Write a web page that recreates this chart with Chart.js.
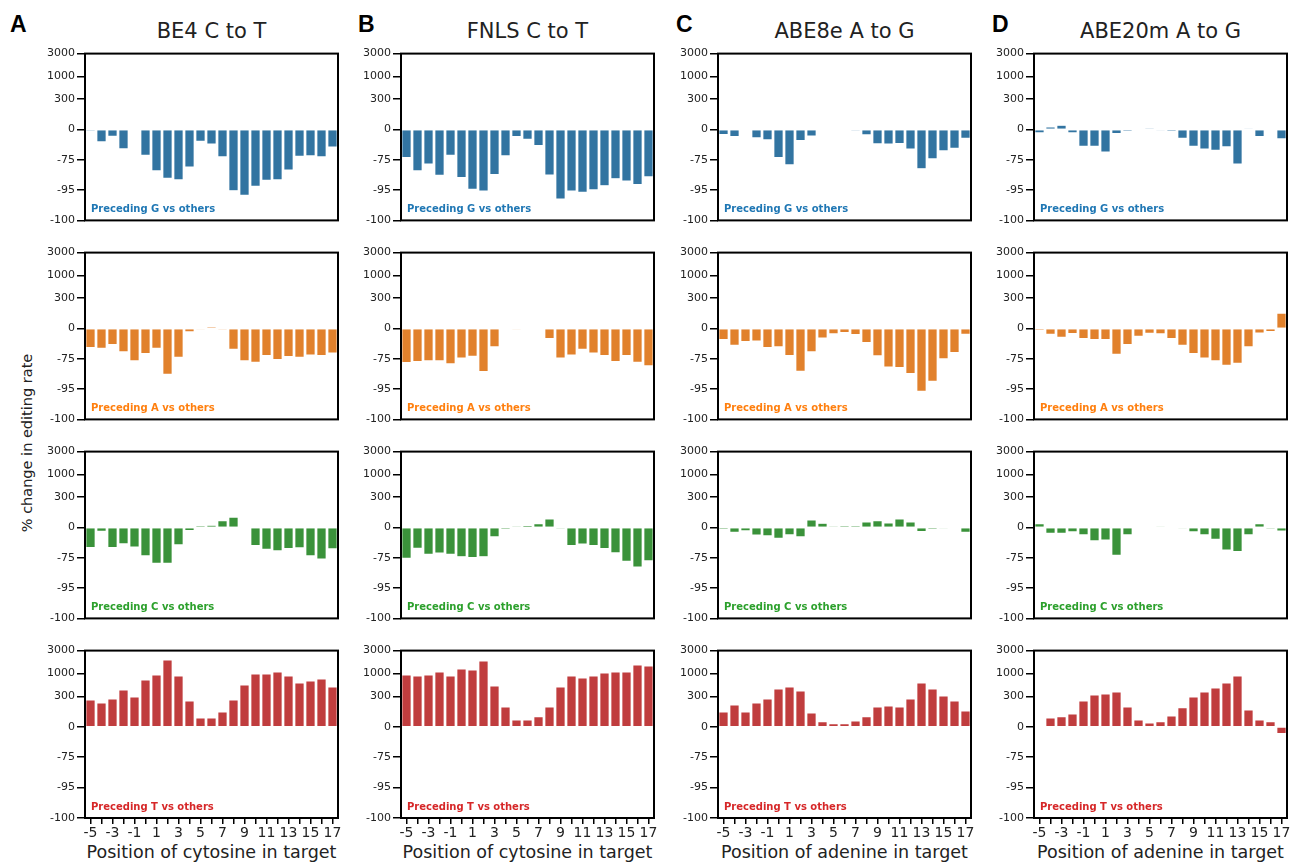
<!DOCTYPE html>
<html>
<head>
<meta charset="utf-8">
<script src="https://cdn.jsdelivr.net/npm/chart.js@4.4.1/dist/chart.umd.min.js"></script>
<style>
  body { margin: 0; background: #fff; width: 1292px; height: 864px; position: relative; overflow: hidden; font-family: "DejaVu Sans", sans-serif; color: #222; }
  canvas { position: absolute; }
  .letter { position: absolute; font-family: "Liberation Sans", Arial, sans-serif; font-weight: bold; font-size: 23px; line-height: 20px; color: #000; }
  .title { position: absolute; width: 253px; text-align: center; font-size: 21px; line-height: 21px; }
  .xtitle { position: absolute; width: 300px; text-align: center; font-size: 17.5px; line-height: 17.5px; }
  .ylabel { position: absolute; font-size: 14.5px; white-space: nowrap; transform: translate(-50%, -50%) rotate(-90deg); }
</style>
</head>
<body>
<script>
// positions of the edited base relative to the target
const positions = ['-5','-4','-3','-2','-1','0','1','2','3','4','5','6','7','8','9','10','11','12','13','14','15','16','17'];

// y axis is log2 fold change, labelled as % change
const yTickValues = [-6, -4, -2, 0, 2, 3.5, 5];
const yTickLabels = ['-100', '-95', '-75', '0', '300', '1000', '3000'];

const editors = ['BE4 C to T', 'FNLS C to T', 'ABE8e A to G', 'ABE20m A to G'];
const panelLetters = ['A', 'B', 'C', 'D'];
const xTitles = ['Position of cytosine in target', 'Position of cytosine in target',
                 'Position of adenine in target', 'Position of adenine in target'];
const preceding = ['Preceding G vs others', 'Preceding A vs others', 'Preceding C vs others', 'Preceding T vs others'];

// preceding G
const be4G    = [-0.10,-0.83,-0.46,-1.29,0,-1.71,-2.74,-3.24,-3.33,-2.49,-0.79,-0.98,-1.82,-4.05,-4.35,-3.76,-3.37,-3.33,-2.69,-1.79,-1.75,-1.82,-1.18];
const fnlsG   = [-1.86,-2.74,-2.30,-3.04,-1.71,-3.19,-3.96,-4.07,-2.98,-1.75,-0.48,-0.66,-1.07,-3.02,-4.60,-4.07,-4.16,-4.00,-3.72,-3.26,-3.41,-3.65,-3.13];
const abe8eG  = [-0.35,-0.48,0,-0.57,-0.70,-1.86,-2.34,-0.74,-0.44,-0.05,0.05,-0.05,-0.08,-0.37,-0.96,-0.98,-0.94,-1.31,-2.60,-1.95,-1.42,-1.25,-0.59];
const abe20mG = [-0.24,0.18,0.28,-0.24,-1.12,-1.12,-1.51,-0.28,-0.11,0,0.07,-0.04,-0.11,-0.59,-1.12,-1.31,-1.38,-1.16,-2.30,0.02,-0.48,0,-0.63];
// preceding A
const be4A    = [-1.27,-1.32,-1.08,-1.56,-2.15,-1.67,-1.32,-3.03,-1.91,-0.24,-0.02,0.09,-0.09,-1.38,-2.15,-2.24,-1.80,-2.07,-1.87,-1.91,-1.76,-1.80,-1.63];
const fnlsA   = [-2.26,-2.20,-2.15,-2.15,-2.35,-1.96,-1.85,-2.86,-1.23,-0.07,-0.04,0,0,-0.68,-1.96,-1.76,-1.38,-1.63,-1.80,-2.20,-1.80,-2.24,-2.48];
const abe8eA  = [-0.75,-1.12,-0.88,-0.84,-1.27,-1.23,-1.80,-2.84,-1.56,-0.64,-0.37,-0.29,-0.42,-0.95,-1.82,-2.55,-2.59,-2.99,-4.15,-3.49,-2.02,-1.60,-0.40];
const abe20mA = [-0.13,-0.40,-0.59,-0.35,-0.68,-0.75,-0.75,-1.71,-1.08,-0.53,-0.33,-0.37,-0.68,-1.12,-1.67,-1.96,-2.15,-2.44,-2.31,-1.23,-0.31,-0.22,1.01];
// preceding C
const be4C    = [-1.33,-0.26,-1.33,-1.09,-1.31,-1.88,-2.38,-2.38,-1.16,-0.22,0.09,0.15,0.46,0.68,-0.07,-1.20,-1.46,-1.55,-1.40,-1.35,-1.88,-2.10,-1.42];
const fnlsC   = [-2.05,-1.38,-1.79,-1.70,-1.79,-1.94,-1.99,-1.94,-0.63,-0.13,0.07,0.13,0.26,0.57,-0.09,-1.20,-1.11,-1.20,-1.40,-1.68,-2.25,-2.62,-2.21];
const abe8eC  = [-0.13,-0.33,-0.24,-0.52,-0.57,-0.72,-0.50,-0.63,0.50,0.28,0.07,0.09,0.11,0.37,0.46,0.31,0.57,0.37,-0.28,-0.13,-0.02,-0.07,-0.33];
const abe20mC = [0.25,-0.40,-0.40,-0.30,-0.50,-0.90,-0.85,-1.85,-0.50,0,0.05,0.02,0,-0.02,-0.30,-0.50,-0.80,-1.50,-1.60,-0.50,0.25,-0.10,-0.25];
// preceding T
const be4T    = [1.77,1.57,1.84,2.43,1.97,3.08,3.41,4.39,3.34,1.70,0.59,0.59,0.98,1.77,2.75,3.48,3.48,3.61,3.34,2.89,3.02,3.15,2.62];
const fnlsT   = [3.41,3.34,3.41,3.61,3.34,3.80,3.74,4.33,2.69,1.31,0.46,0.46,0.66,1.31,2.62,3.34,3.21,3.34,3.54,3.61,3.61,4.07,4.00];
const abe8eT  = [0.98,1.44,0.98,1.57,1.84,2.49,2.62,2.36,0.92,0.33,0.20,0.20,0.39,0.66,1.31,1.38,1.31,1.84,2.89,2.49,2.03,1.70,1.05];
const abe20mT = [0,0.59,0.66,0.85,1.70,2.10,2.16,2.30,1.31,0.46,0.26,0.33,0.72,1.25,1.97,2.30,2.56,2.89,3.34,1.11,0.46,0.33,-0.46];

const grid = [
  [be4G, fnlsG, abe8eG, abe20mG],
  [be4A, fnlsA, abe8eA, abe20mA],
  [be4C, fnlsC, abe8eC, abe20mC],
  [be4T, fnlsT, abe8eT, abe20mT]
];
const barColors = ['#3274a1', '#e1812c', '#3a923a', '#c03d3e'];
const textColors = ['#1f77b4', '#ff7f0e', '#2ca02c', '#d62728'];

// layout
const colLeft = [85, 401, 718, 1034];
const rowTop = [53, 252, 451, 650];
const plotW = 253, plotH = 168, yAxisW = 45, padTop = 8, padRight = 6, padBottom = 8, xAxisH = 30;

const boxPlugin = {
  id: 'box',
  afterDraw(chart, args, opts) {
    const { ctx, chartArea: a } = chart;
    ctx.save();
    ctx.font = 'bold 10px "DejaVu Sans"';
    ctx.fillStyle = opts.color;
    ctx.textBaseline = 'middle';
    ctx.fillText(opts.text, a.left + 6, a.bottom - 11);
    ctx.strokeStyle = '#000';
    ctx.lineWidth = 2;
    ctx.strokeRect(a.left, a.top, a.right - a.left, a.bottom - a.top);
    ctx.restore();
  }
};

function addText(cls, text, left, top) {
  const d = document.createElement('div');
  d.className = cls;
  d.textContent = text;
  d.style.left = left + 'px';
  d.style.top = top + 'px';
  document.body.appendChild(d);
}

for (let c = 0; c < 4; c++) {
  addText('letter', panelLetters[c], [10, 358, 676, 992][c], 14);
  addText('title', editors[c], colLeft[c], 20.5);
  addText('xtitle', xTitles[c], colLeft[c] + plotW / 2 - 150, 844);
}
addText('ylabel', '% change in editing rate', 27, 443);

for (let r = 0; r < 4; r++) {
  for (let c = 0; c < 4; c++) {
    const bottomRow = r === 3;
    const w = yAxisW + plotW + padRight;
    const h = padTop + plotH + (bottomRow ? xAxisH : padBottom);
    const canvas = document.createElement('canvas');
    canvas.width = w;
    canvas.height = h;
    canvas.style.width = w + 'px';
    canvas.style.height = h + 'px';
    canvas.style.left = (colLeft[c] - yAxisW) + 'px';
    canvas.style.top = (rowTop[r] - padTop) + 'px';
    document.body.appendChild(canvas);

    new Chart(canvas.getContext('2d'), {
      type: 'bar',
      data: {
        labels: positions,
        datasets: [{
          data: grid[r][c],
          backgroundColor: barColors[r],
          borderColor: 'rgba(255,255,255,0.55)',
          borderWidth: 0.7,
          barPercentage: 0.88,
          categoryPercentage: 1.0
        }]
      },
      options: {
        responsive: false,
        animation: false,
        devicePixelRatio: 1,
        layout: { padding: { top: padTop, right: padRight, bottom: bottomRow ? 0 : padBottom, left: 0 } },
        plugins: {
          legend: { display: false },
          tooltip: { enabled: false },
          box: { text: preceding[r], color: textColors[r] }
        },
        scales: {
          x: {
            display: bottomRow,
            offset: true,
            grid: { offset: false, drawOnChartArea: false, color: '#000', lineWidth: 1.5, tickLength: 6 },
            border: { display: false },
            ticks: {
              autoSkip: false,
              maxRotation: 0,
              padding: 1,
              color: '#222',
              font: { family: 'DejaVu Sans', size: 14 },
              callback: (v, i) => (Number(positions[i]) % 2 !== 0 ? positions[i] : '')
            },
            afterFit: s => { if (bottomRow) s.height = xAxisH; }
          },
          y: {
            min: -6,
            max: 5,
            afterBuildTicks: s => { s.ticks = yTickValues.map(v => ({ value: v })); },
            afterFit: s => { s.width = yAxisW; },
            grid: { drawOnChartArea: false, color: '#000', lineWidth: 1.5, tickLength: 8 },
            border: { display: false },
            ticks: {
              autoSkip: false,
              padding: 2,
              color: '#222',
              font: { family: 'DejaVu Sans', size: 11 },
              callback: v => yTickLabels[yTickValues.indexOf(v)]
            }
          }
        }
      },
      plugins: [boxPlugin]
    });
  }
}
</script>
</body>
</html>
